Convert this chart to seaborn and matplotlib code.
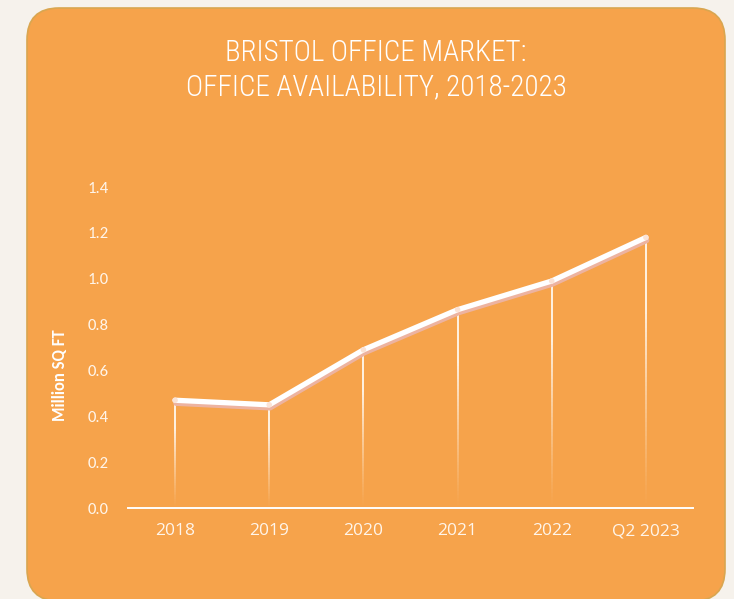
import numpy as np
import pandas as pd
import matplotlib
matplotlib.use("Agg")
import matplotlib.pyplot as plt
import seaborn as sns
from matplotlib.patches import FancyBboxPatch
from matplotlib.collections import LineCollection
import matplotlib.patheffects as pe

# Office availability, million sq ft
periods = ["2018", "2019", "2020", "2021", "2022", "Q2 2023"]
availability = [0.47, 0.45, 0.69, 0.865, 0.99, 1.18]
y_ticks = [0.0, 0.2, 0.4, 0.6, 0.8, 1.0, 1.2, 1.4]

title_lines = ["BRISTOL OFFICE MARKET:", "OFFICE AVAILABILITY, 2018-2023"]
y_label = "Million SQ FT"

PAGE = "#F6F2EC"
PANEL = "#F6A34B"
EDGE = "#D9A650"
WHITE = "#FFFFFF"
TEXT = "#FFF5EA"
SHADOW = "#EDB3A0"

TITLE_FONT = ["Roboto Condensed", "Archivo Narrow", "Liberation Sans Narrow", "DejaVu Sans"]
BODY_FONT = ["Carlito", "Open Sans", "DejaVu Sans"]
XTICK_FONT = ["Open Sans", "DejaVu Sans"]

sns.set_theme(style="white")
plt.rcParams["font.family"] = BODY_FONT

W, H = 734, 599
fig = plt.figure(figsize=(W / 100, H / 100), dpi=100, facecolor=PAGE)

# Rounded orange card behind the chart, laid out in pixel units
bg = fig.add_axes([0, 0, 1, 1], zorder=0)
bg.set_xlim(0, W)
bg.set_ylim(H, 0)
bg.axis("off")
bg.add_patch(FancyBboxPatch((27, 8), 698, 593,
                            boxstyle="round,pad=0,rounding_size=32",
                            facecolor=PANEL, edgecolor=EDGE, linewidth=1.2))

for txt, yc in zip(title_lines, [53, 87]):
    fig.text(376 / W, 1 - yc / H, txt, ha="center", va="center",
             color=WHITE, fontsize=21, fontweight="light", family=TITLE_FONT)

ax = fig.add_axes([128 / W, 1 - 508 / H, (693 - 128) / W, (508 - 187) / H], zorder=1)
ax.set_facecolor("none")

df = pd.DataFrame({"period": periods, "availability": availability})
x = np.arange(len(periods))

# Drop lines from each point to the baseline, fading towards the bottom
segs, cols = [], []
n = 60
for xi, v in zip(x, df["availability"]):
    edges = np.linspace(0, v, n + 1)
    for a, b in zip(edges[:-1], edges[1:]):
        frac = (a + b) / 2 / v
        alpha = min(1.0, (frac * 1.35)) ** 1.2
        segs.append([(xi, a), (xi, b)])
        cols.append((1.0, 0.97, 0.93, alpha * 0.92))
ax.add_collection(LineCollection(segs, colors=cols, linewidths=1.3, zorder=2,
                                 capstyle="butt", antialiaseds=False))

sns.lineplot(data=df, x="period", y="availability", ax=ax, color=WHITE,
             linewidth=3.8, sort=False, zorder=4, clip_on=False,
             marker="o", markersize=4, markerfacecolor="#FBE3D6",
             markeredgewidth=0,
             path_effects=[pe.SimpleLineShadow(offset=(0.6, -2.2),
                                               shadow_color=SHADOW, alpha=1.0),
                           pe.Normal()])

ax.set_xlim(-0.5, len(periods) - 0.5)
ax.set_ylim(0, 1.4)
ax.set_xticks(x)
ax.set_xticklabels(periods, family=XTICK_FONT)
ax.set_yticks(y_ticks)
ax.set_yticklabels([f"{t:.1f}" for t in y_ticks])
ax.tick_params(axis="x", length=0, pad=11, labelsize=12.5, labelcolor=TEXT)
ax.tick_params(axis="y", length=0, pad=14, labelsize=12, labelcolor=TEXT)

for side in ["top", "right", "left"]:
    ax.spines[side].set_visible(False)
ax.spines["bottom"].set_color(WHITE)
ax.spines["bottom"].set_linewidth(1.4)
ax.spines["bottom"].set_zorder(3)

ax.set_xlabel("")
ax.set_ylabel(y_label, fontsize=12, fontweight="bold", color=WHITE)
ax.yaxis.set_label_coords((68 - 128) / (693 - 128), (508 - 375) / (508 - 187))
ax.grid(False)

fig.savefig("out.png", dpi=100, facecolor=PAGE)
